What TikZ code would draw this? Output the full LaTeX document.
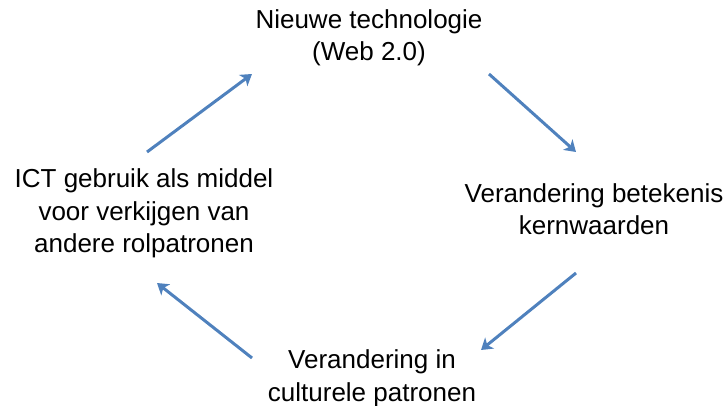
\documentclass[tikz,border=0pt]{standalone}
\usepackage{fontspec}
\setmainfont{Liberation Sans}
\usetikzlibrary{arrows.meta}
\definecolor{arrowblue}{HTML}{4F81BD}
\begin{document}
\begin{tikzpicture}[x=1pt,y=-1pt,
  lbl/.style={align=center, inner sep=0pt, font=\fontsize{26}{32.5}\selectfont},
  cyc/.style={draw=arrowblue, line width=3pt, -{Stealth[length=11pt,width=14pt,inset=3pt]}}]
\useasboundingbox (0,0) rectangle (727,406);
\node[lbl] (top) at (369,38) {Nieuwe technologie\\(Web 2.0)};
\node[lbl] (right) at (594,209) {Verandering betekenis\\kernwaarden};
\node[lbl] (bottom) at (372,378.5) {\fontsize{26}{30.5}\selectfont Verandering in\\culturele patronen};
\node[lbl] (left) at (144,213.5) {ICT gebruik als middel\\voor verkijgen van\\andere rolpatronen};
\coordinate (a1s) at (147,152);
\coordinate (a1e) at (252,74);
\coordinate (a2s) at (489,74);
\coordinate (a2e) at (576,152);
\coordinate (a3s) at (576,273);
\coordinate (a3e) at (481,350);
\coordinate (a4s) at (252,358);
\coordinate (a4e) at (157,283);
\draw[cyc] (a1s) -- (a1e);
\draw[cyc] (a2s) -- (a2e);
\draw[cyc] (a3s) -- (a3e);
\draw[cyc] (a4s) -- (a4e);
\end{tikzpicture}
\end{document}
